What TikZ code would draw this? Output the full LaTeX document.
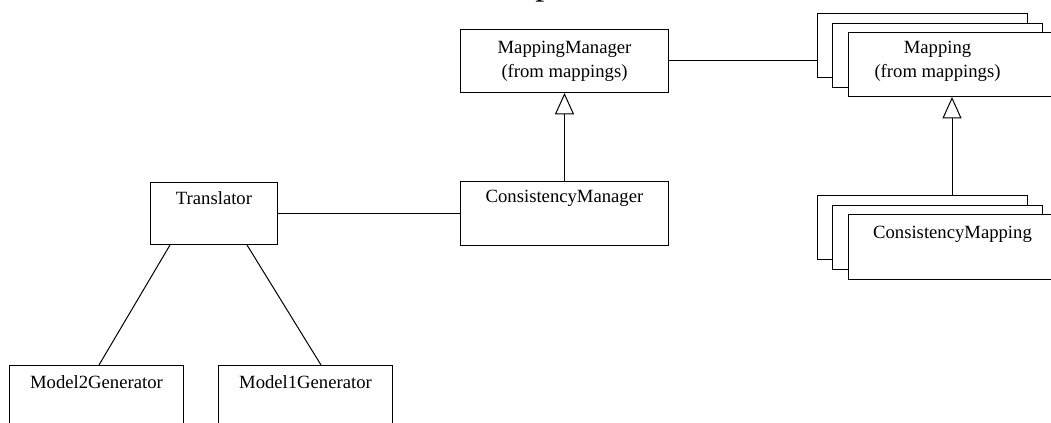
\documentclass[tikz,border=0pt]{standalone}
\usepackage{fontspec}
\setmainfont{Liberation Serif}
\usetikzlibrary{arrows.meta,calc}
\begin{document}
\begin{tikzpicture}[x=0.75pt,y=-0.75pt,
  box/.style={draw=black,fill=white,line width=0.75pt,inner sep=0pt,anchor=north west},
  txt/.style={font=\fontsize{14}{18}\selectfont,inner sep=0pt,align=center},
  conn/.style={draw=black,line width=0.75pt},
  inh/.style={draw=black,line width=0.75pt,-{Triangle[open,length=16pt,width=14.25pt]}}]
\clip (0,0) rectangle (1051,423);
% cut-off title descender
\node[font=\fontsize{27}{30}\selectfont,inner sep=0pt,anchor=base west] (ttl) at (535,-5) {p};
% boxes
\node[box,minimum width=156pt,minimum height=47.25pt] (mm) at (460,29) {};
\node[txt] (mmt) at (mm.center) {MappingManager\\(from mappings)};
\node[box,minimum width=156pt,minimum height=48pt] (cm) at (460,181) {};
\node[txt,anchor=base] (cmt) at ($(cm.north)+(0,22)$) {ConsistencyManager};
\node[box,minimum width=95.25pt,minimum height=46.5pt] (tr) at (150,182) {};
\node[txt,anchor=base] (trt) at ($(tr.north)+(0,23)$) {Translator};
\node[box,minimum width=130.5pt,minimum height=60pt] (m2) at (9,365) {};
\node[txt,anchor=base] (m2t) at ($(m2.north)+(0,24)$) {Model2Generator};
\node[box,minimum width=130.5pt,minimum height=60pt] (m1) at (218,365) {};
\node[txt,anchor=base] (m1t) at ($(m1.north)+(0,24)$) {Model1Generator};
% Mapping stack
\node[box,minimum width=157.5pt,minimum height=48pt] (mapback) at (817,13) {};
\node[box,minimum width=157.5pt,minimum height=48pt] (mapmid) at (832,23) {};
\node[box,minimum width=157.5pt,minimum height=48pt] (mapfront) at (848,32) {};
\node[txt] (mapt) at ($(mapfront.center)+(-16,-3)$) {Mapping\\(from mappings)};
% ConsistencyMapping stack
\node[box,minimum width=157.5pt,minimum height=48pt] (cmapback) at (817,195) {};
\node[box,minimum width=157.5pt,minimum height=48pt] (cmapmid) at (832,205) {};
\node[box,minimum width=157.5pt,minimum height=48.75pt] (cmapfront) at (848,214) {};
\node[txt,anchor=base] (cmapt) at ($(cmapfront.north)+(-1,25)$) {ConsistencyMapping};
% connectors
\draw[conn] (mm.east) -- (mm.east -| mapback.west);
\draw[conn] (tr.east) -- (cm.west);
\draw[inh] (cm.north) -- (mm.south);
\coordinate (mapin) at ($(mapfront.south west)+(104,0)$);
\draw[inh] (mapin |- cmapback.north) -- (mapin);
\draw[conn] ($(tr.south west)+(20,0)$) -- ($(m2.north west)+(90,0)$);
\draw[conn] ($(tr.south west)+(97,0)$) -- ($(m1.north west)+(103,0)$);
\end{tikzpicture}
\end{document}
